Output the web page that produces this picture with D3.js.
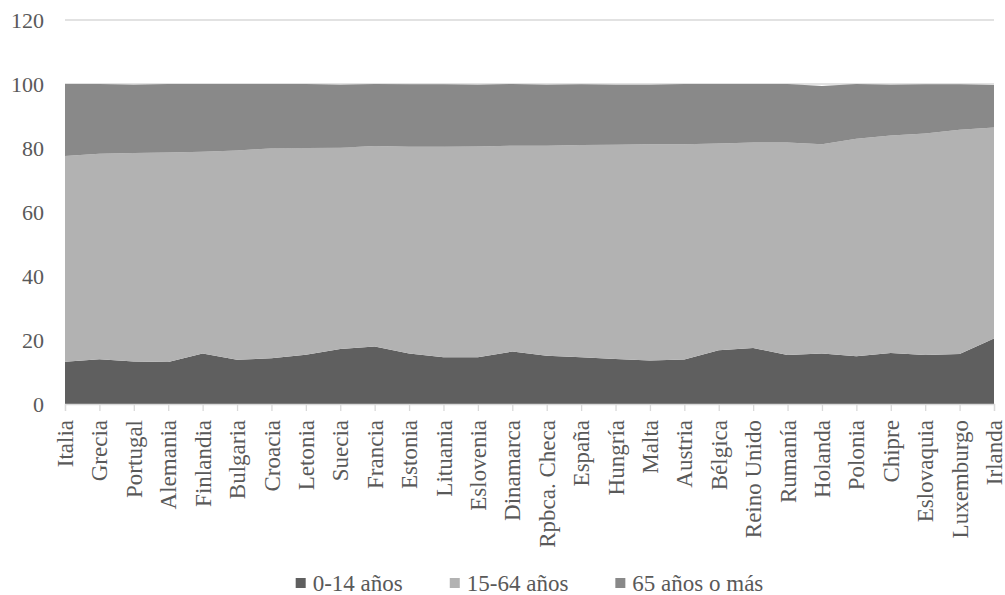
<!DOCTYPE html>
<html>
<head>
<meta charset="utf-8">
<script src="https://cdn.jsdelivr.net/npm/d3@7"></script>
<style>
  html, body { margin: 0; padding: 0; background: #ffffff; }
  svg { display: block; }
  svg text { font-family: "Liberation Serif", "Times New Roman", "DejaVu Serif", serif; fill: #595959; }
</style>
</head>
<body>
<svg id="chart" width="1005" height="595"></svg>
<script>
// Estructura de la población por grupos de edad (%)
const paises = ["Italia", "Grecia", "Portugal", "Alemania", "Finlandia", "Bulgaria", "Croacia",
  "Letonia", "Suecia", "Francia", "Estonia", "Lituania", "Eslovenia", "Dinamarca",
  "Rpbca. Checa", "España", "Hungría", "Malta", "Austria", "Bélgica", "Reino Unido",
  "Rumanía", "Holanda", "Polonia", "Chipre", "Eslovaquia", "Luxemburgo", "Irlanda"];

const edad0a14 = [13.2, 14.0, 13.3, 13.1, 15.8, 13.8, 14.3, 15.4, 17.2, 18.0, 15.8, 14.6, 14.6, 16.4,
  15.1, 14.6, 14.1, 13.6, 13.9, 16.8, 17.5, 15.3, 15.8, 14.9, 15.9, 15.3, 15.6, 20.5];
const edad15a64 = [64.3, 64.2, 65.1, 65.5, 63.0, 65.4, 65.6, 64.6, 62.9, 62.6, 64.6, 65.8, 65.9, 64.3,
  65.6, 66.3, 66.9, 67.6, 67.3, 64.6, 64.2, 66.4, 65.4, 68.0, 68.0, 69.2, 70.1, 65.9];
const edad65mas = [22.5, 21.8, 21.4, 21.4, 21.2, 20.8, 20.1, 20.0, 19.7, 19.4, 19.5, 19.5, 19.3, 19.3,
  19.1, 19.0, 18.8, 18.6, 18.8, 18.6, 18.3, 18.3, 18.2, 17.1, 15.9, 15.4, 14.2, 13.3];

const series = ["0-14 años", "15-64 años", "65 años o más"];
const colores = ["#5f5f5f", "#b2b2b2", "#898989"];
const ticksY = [0, 20, 40, 60, 80, 100, 120];

const filas = paises.map((p, i) => ({
  pais: p,
  "0-14 años": edad0a14[i],
  "15-64 años": edad15a64[i],
  "65 años o más": edad65mas[i]
}));

const svg = d3.select("#chart");

const x = d3.scalePoint().domain(paises).range([65, 994]);
const y = d3.scaleLinear().domain([0, 120]).range([404, 20]);

// Líneas de cuadrícula horizontales
svg.append("g")
  .selectAll("line")
  .data(ticksY.filter(d => d > 0))
  .join("line")
  .attr("x1", 65).attr("x2", 994)
  .attr("y1", d => y(d)).attr("y2", d => y(d))
  .attr("stroke", "#d9d9d9").attr("stroke-width", 1.3);

// Áreas apiladas
const pila = d3.stack().keys(series)(filas);
const area = d3.area()
  .x(d => x(d.data.pais))
  .y0(d => y(d[0]))
  .y1(d => y(d[1]));

svg.append("g")
  .selectAll("path")
  .data(pila)
  .join("path")
  .attr("fill", (d, i) => colores[i])
  .attr("d", area);

// Eje X
const ejeX = svg.append("g")
  .attr("transform", `translate(0,${y(0)})`)
  .call(d3.axisBottom(x).tickSize(7).tickPadding(0).tickFormat(""));
ejeX.attr("font-family", null);
ejeX.select(".domain").attr("stroke", "#d9d9d9").attr("stroke-width", 1.3);
ejeX.selectAll(".tick line").attr("stroke", "#d9d9d9").attr("stroke-width", 1.3);

svg.append("g")
  .selectAll("text")
  .data(paises)
  .join("text")
  .attr("transform", d => `translate(${x(d)},${y(0) + 16}) rotate(-90)`)
  .attr("dy", "0.35em")
  .attr("text-anchor", "end")
  .style("font-size", "23px")
  .text(d => d);

// Eje Y (sólo etiquetas)
const ejeY = svg.append("g")
  .attr("transform", "translate(44,0)")
  .call(d3.axisLeft(y).tickValues(ticksY).tickSize(0).tickPadding(0));
ejeY.attr("font-family", null).attr("font-size", null);
ejeY.select(".domain").remove();
ejeY.selectAll("text")
  .attr("fill", null)
  .style("font-size", "22px");

// Leyenda centrada bajo el área del gráfico
const leyenda = svg.append("g").attr("transform", "translate(0,583)");
const items = leyenda.selectAll("g")
  .data(series)
  .join("g");
items.append("rect")
  .attr("width", 10).attr("height", 10)
  .attr("y", -5)
  .attr("fill", (d, i) => colores[i]);
items.append("text")
  .attr("x", 17)
  .attr("dy", "0.35em")
  .style("font-size", "23px")
  .text(d => d);

const anchos = [];
items.each(function () {
  anchos.push(17 + this.querySelector("text").getComputedTextLength());
});
const hueco = 47;
const total = d3.sum(anchos) + hueco * (anchos.length - 1);
let pos = (65 + 994) / 2 - total / 2;
items.attr("transform", (d, i) => {
  const t = `translate(${pos},0)`;
  pos += anchos[i] + hueco;
  return t;
});
</script>
</body>
</html>
